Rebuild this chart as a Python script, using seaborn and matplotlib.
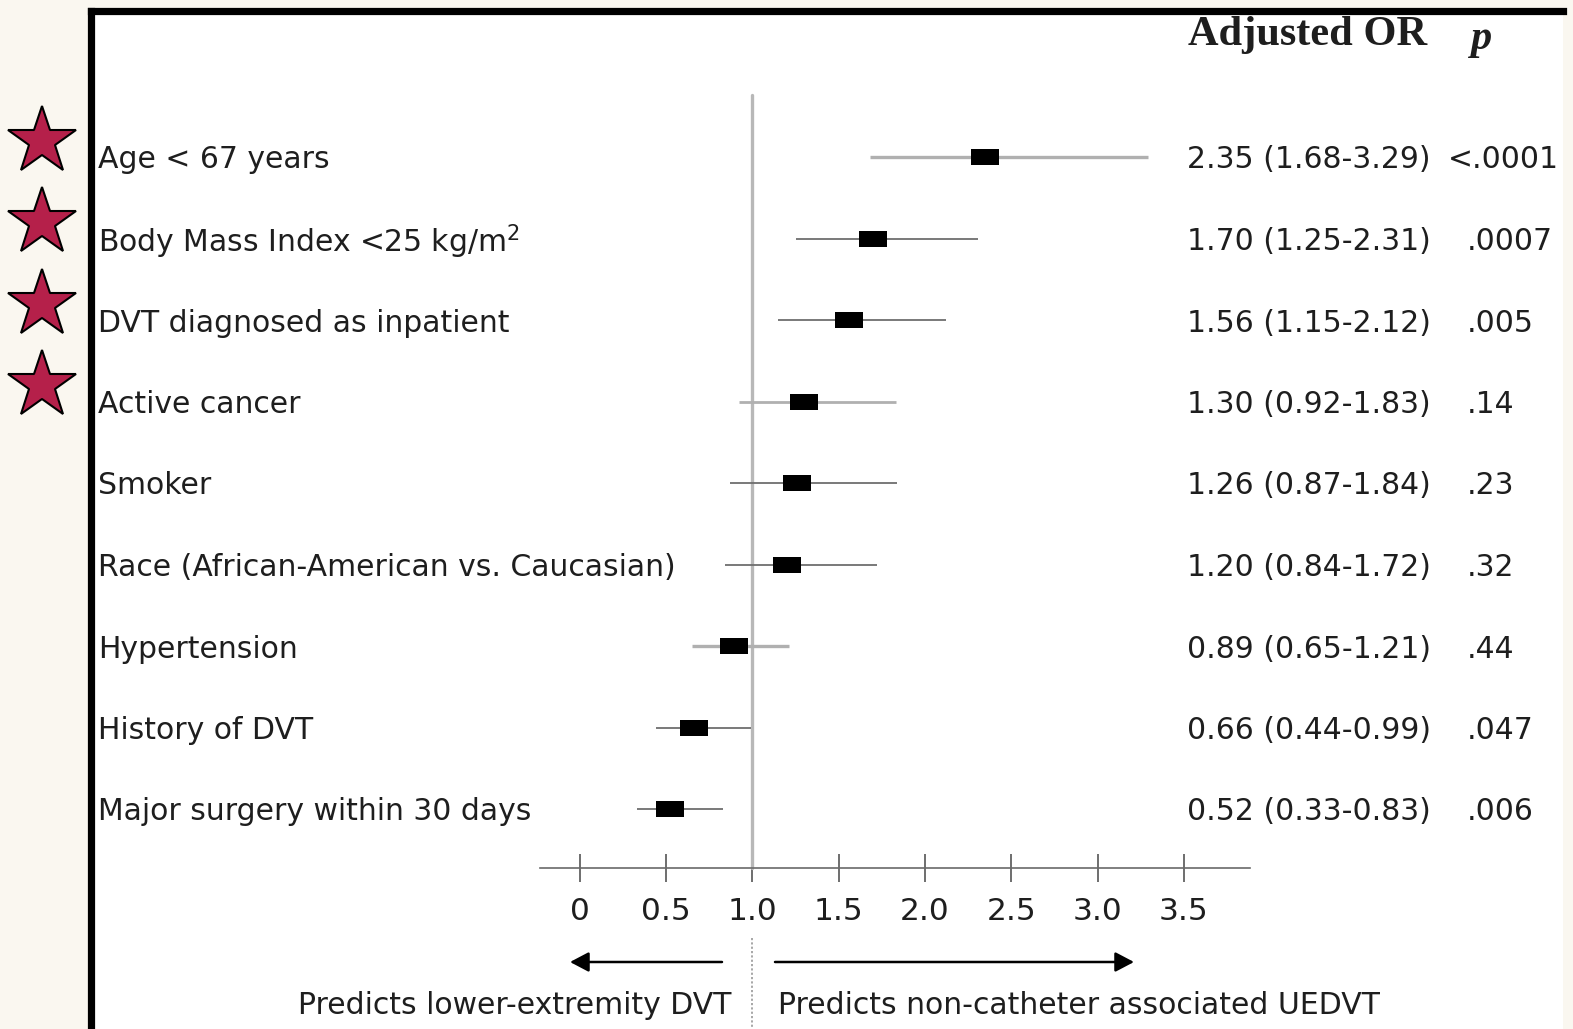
import matplotlib
matplotlib.use("Agg")
import matplotlib.pyplot as plt
from matplotlib.patches import Rectangle
import seaborn as sns
import pandas as pd

# ---------------- data ----------------
factors = ["Age < 67 years", "Body Mass Index <25 kg/m$^2$", "DVT diagnosed as inpatient",
           "Active cancer", "Smoker", "Race (African-American vs. Caucasian)",
           "Hypertension", "History of DVT", "Major surgery within 30 days"]
odds_ratio = [2.35, 1.70, 1.56, 1.30, 1.26, 1.20, 0.89, 0.66, 0.52]
ci_low = [1.68, 1.25, 1.15, 0.92, 0.87, 0.84, 0.65, 0.44, 0.33]
ci_high = [3.29, 2.31, 2.12, 1.83, 1.84, 1.72, 1.21, 0.99, 0.83]
p_values = ["<.0001", ".0007", ".005", ".14", ".23", ".32", ".44", ".047", ".006"]
starred = [True, True, True, True, False, False, False, False, False]
tick_values = [0, 0.5, 1.0, 1.5, 2.0, 2.5, 3.0, 3.5]
tick_labels = ["0", "0.5", "1.0", "1.5", "2.0", "2.5", "3.0", "3.5"]
left_note = "Predicts lower-extremity DVT"
right_note = "Predicts non-catheter associated UEDVT"

# ---------------- style ----------------
W, H = 1573, 1029
X0, XS = 580.0, 172.5      # pixel of OR=0, pixels per unit
Y0, YS = 157.0, 81.5       # pixel of first row, pixels per row
def px2x(p): return (p - X0) / XS
def px2y(p): return (p - Y0) / YS

sns.set_theme(style="white")
plt.rcParams["font.family"] = ["DejaVu Sans"]
plt.rcParams["mathtext.fontset"] = "dejavusans"
cream = "#faf7f0"
txt = "#1e1e1e"
line_light = "#b0b0b0"
line_dark = "#6e6e6e"
ci_colors = [line_light, line_dark, line_dark, line_light, line_dark,
             line_dark, line_light, line_dark, line_dark]
ci_widths = [2.4, 1.3, 1.3, 2.0, 1.3, 1.3, 2.4, 1.3, 1.3]
star_color = "#b5204a"
FS = 21.5
DY = 3.0 / YS  # small downward shift of text baselines

fig = plt.figure(figsize=(W / 100, H / 100), dpi=100, facecolor=cream)
ax = fig.add_axes([0, 0, 1, 1])
ax.set_facecolor(cream)
ax.set_xlim(px2x(0), px2x(W))
ax.set_ylim(px2y(H), px2y(0))

# white panel with black left / top border
ax.add_patch(Rectangle((px2x(91), px2y(11)), px2x(1563) - px2x(91), px2y(H + 10) - px2y(11),
                       facecolor="white", edgecolor="none", zorder=0))
ax.plot([px2x(91), px2x(91)], [px2y(H + 10), px2y(11)], color="black", lw=5.2,
        solid_capstyle="projecting", zorder=1)
ax.plot([px2x(91), px2x(1563)], [px2y(11), px2y(11)], color="black", lw=5.2,
        solid_capstyle="projecting", zorder=1)

df = pd.DataFrame({"factor": factors, "or": odds_ratio, "lo": ci_low, "hi": ci_high,
                   "p": p_values, "row": range(len(factors))})

axis_y = px2y(868)
# reference line at OR = 1
ax.plot([1.0, 1.0], [px2y(95), axis_y], color="#b8b8b8", lw=2.4, zorder=2)
ax.plot([1.0, 1.0], [px2y(938), px2y(H)], color="#a0a0a0", lw=1.3, ls=(0, (1.2, 1.2)), zorder=2)

# confidence intervals
for i, r in df.iterrows():
    ax.plot([r["lo"], r["hi"]], [r["row"], r["row"]], color=ci_colors[i], lw=ci_widths[i],
            solid_capstyle="butt", zorder=3)

# point estimates (black rectangles)
rect_marker = [(-1.75, -1.0), (1.75, -1.0), (1.75, 1.0), (-1.75, 1.0), (-1.75, -1.0)]
sns.scatterplot(data=df, x="or", y="row", marker=rect_marker, s=420, color="black",
                edgecolor="black", linewidth=0, ax=ax, zorder=4, legend=False)

# labels & statistics
for i, r in df.iterrows():
    y = r["row"] + DY
    ax.text(px2x(98), y, r["factor"], ha="left", va="center", fontsize=FS, color=txt)
    ax.text(px2x(1187), y, f"{r['or']:.2f} ({r['lo']:.2f}-{r['hi']:.2f})",
            ha="left", va="center", fontsize=FS, color=txt)
    px_p = 1448 if r["p"].startswith("<") else 1467
    ax.text(px2x(px_p), y, r["p"], ha="left", va="center", fontsize=FS, color=txt)

ax.text(px2x(1188), px2y(35), "Adjusted OR", ha="left", va="center", fontsize=30.5,
        fontweight="bold", family=["Liberation Serif", "DejaVu Serif"], color=txt)
ax.text(px2x(1470), px2y(39), "p", ha="left", va="center", fontsize=30.5, fontstyle="italic",
        fontweight="bold", family=["Liberation Serif", "DejaVu Serif"], color=txt)

# stars
for i, s in enumerate(starred):
    if s:
        ax.plot(px2x(42), i - 0.2, marker="*", ms=51, color=star_color,
                markeredgecolor="black", markeredgewidth=1.5, zorder=5, clip_on=False)

# x axis
for side in ["top", "left", "right"]:
    ax.spines[side].set_visible(False)
ax.spines["bottom"].set_position(("data", axis_y))
ax.spines["bottom"].set_bounds(px2x(540), px2x(1250))
ax.spines["bottom"].set_color("#6a6a6a")
ax.spines["bottom"].set_linewidth(1.2)
ax.spines["bottom"].set_visible(True)
ax.set_xticks(tick_values)
ax.set_xticklabels(tick_labels)
ax.set_yticks([])
ax.tick_params(axis="x", bottom=True, direction="inout", length=19.5, width=1.2, color="#555555",
               labelsize=22.5, pad=11, labelcolor=txt)
ax.set_xlabel("")
ax.set_ylabel("")

# arrows and notes
arrow_kw = dict(arrowstyle="-|>,head_length=0.95,head_width=0.5", color="black", lw=1.8,
                shrinkA=0, shrinkB=0)
ax.annotate("", xy=(px2x(570), px2y(962)), xytext=(px2x(722), px2y(962)), arrowprops=arrow_kw)
ax.annotate("", xy=(px2x(1134), px2y(962)), xytext=(px2x(775), px2y(962)), arrowprops=arrow_kw)
ax.text(px2x(731), px2y(1005), left_note, ha="right", va="center", fontsize=FS, color=txt)
ax.text(px2x(778), px2y(1005), right_note, ha="left", va="center", fontsize=FS, color=txt)

fig.savefig("out.png", dpi=100, facecolor=cream)
